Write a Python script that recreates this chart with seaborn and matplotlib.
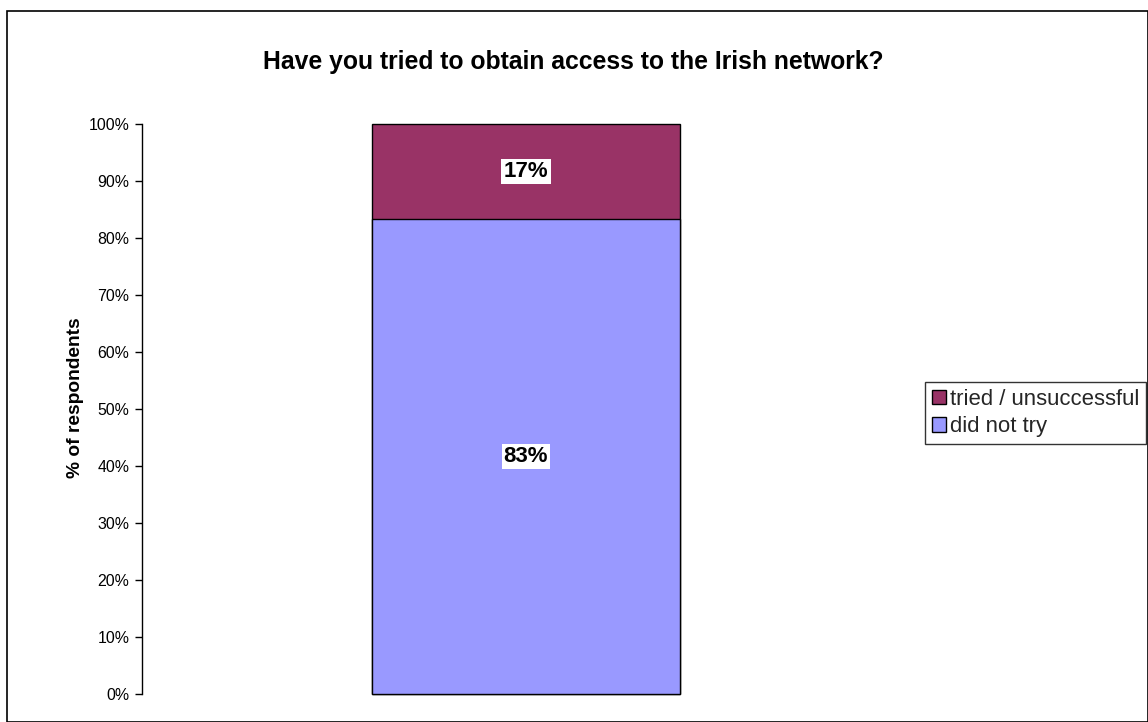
import matplotlib
matplotlib.use("Agg")
import matplotlib.pyplot as plt
import seaborn as sns
import pandas as pd
from matplotlib.patches import Rectangle, Patch
from matplotlib.ticker import PercentFormatter

sns.set_theme(style="white")
plt.rcParams['font.family'] = ['Liberation Sans', 'DejaVu Sans']

categories = ["all"]
series_names = ["tried / unsuccessful", "did not try"]
tried_unsuccessful = [16.7]
did_not_try = [83.3]
yticks = [0, 10, 20, 30, 40, 50, 60, 70, 80, 90, 100]
colors = {"tried / unsuccessful": "#993366", "did not try": "#9999FF"}

df = pd.DataFrame({"cat": categories,
                   "tried": tried_unsuccessful,
                   "dnt": did_not_try})
df["total"] = df["tried"] + df["dnt"]

fig = plt.figure(figsize=(11.48, 7.22), dpi=100)
ax = fig.add_axes([142/1148, 28/722, 768/1148, 570/722])

sns.barplot(data=df, x="cat", y="total", color=colors["tried / unsuccessful"],
            width=0.402, edgecolor="black", linewidth=1, saturation=1, ax=ax)
sns.barplot(data=df, x="cat", y="dnt", color=colors["did not try"],
            width=0.402, edgecolor="black", linewidth=1, saturation=1, ax=ax)
for p in ax.patches:
    p.set_clip_on(False)

ax.set_xlim(-0.5, 0.5)
ax.set_ylim(0, 100)
ax.set_yticks(yticks)
ax.yaxis.set_major_formatter(PercentFormatter(decimals=0))
ax.tick_params(axis="y", which="major", direction="out", length=5, width=1,
               color="black", left=True, labelsize=11.4, pad=4, labelcolor="black")
ax.set_xticks([])
ax.set_xlabel("")
ax.set_ylabel("% of respondents", fontsize=13.8, fontweight="bold", color="black",
              va="center")
ax.yaxis.set_label_coords(-66/768, 0.52)
for s in ["top", "right", "bottom"]:
    ax.spines[s].set_visible(False)
ax.spines["left"].set_color("black")
ax.spines["left"].set_linewidth(1)

bbox = dict(boxstyle="square,pad=0.1", facecolor="white", edgecolor="none")
for i, (d, t) in enumerate(zip(did_not_try, tried_unsuccessful)):
    ax.text(i, d / 2, f"{d:.0f}%", ha="center", va="center", fontsize=16,
            fontweight="bold", color="black", bbox=bbox)
    ax.text(i, d + t / 2, f"{t:.0f}%", ha="center", va="center", fontsize=16,
            fontweight="bold", color="black", bbox=bbox)

fig.text(573/1148, 1 - 62/722, "Have you tried to obtain access to the Irish network?",
         ha="center", va="center", fontsize=17.8, fontweight="bold", color="black")

handles = [Patch(facecolor=colors[n], edgecolor="black", linewidth=1, label=n)
           for n in series_names]
leg = fig.legend(handles=handles, loc="center left",
                 bbox_to_anchor=(925/1148, 1 - 413/722), fontsize=15.9,
                 frameon=True, fancybox=False, handlelength=0.65, handleheight=0.65,
                 handletextpad=0.2, borderpad=0.3, labelspacing=0.3, borderaxespad=0)
leg.get_frame().set_edgecolor("black")
leg.get_frame().set_linewidth(1)

fig.patches.append(Rectangle((7/1148, 0), 1 - 7/1148, 1 - 11/722,
                             transform=fig.transFigure, fill=False,
                             edgecolor="black", linewidth=1.2))

fig.savefig("out.png", dpi=100, facecolor="white")
